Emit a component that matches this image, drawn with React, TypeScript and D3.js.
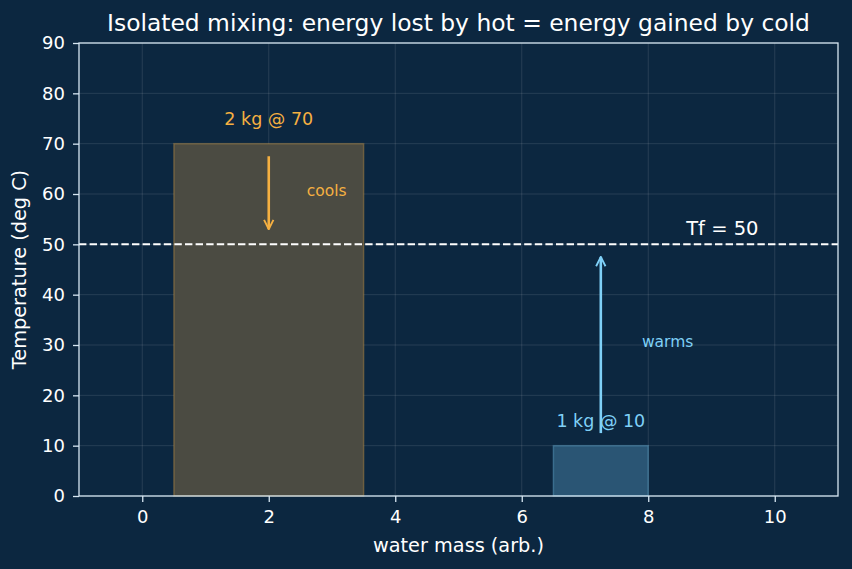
import React, { useEffect, useRef } from "react";
import * as d3 from "d3";

// two water samples: centre on the mass axis, mass, starting temperature
const samples = ["hot", "cold"];
const centers = [2, 7.25];
const masses = [2, 1];
const temps = [70, 10];
const finalTemp = 50;
const xTicks = [0, 2, 4, 6, 8, 10];
const yTicks = [0, 10, 20, 30, 40, 50, 60, 70, 80, 90];

const W = 852;
const H = 569;
const margin = { top: 43, right: 14, bottom: 73, left: 79 };

const BG = "#0c2740";
const AXIS = "#d6e6f2";
const HOT = "#f5b041";
const COLD = "#7fd0f7";
const FONT = "DejaVu Sans";

export default function App() {
  const ref = useRef<SVGSVGElement>(null);

  useEffect(() => {
    document.body.style.margin = "0";
    const svg = d3.select(ref.current);
    svg.selectAll("*").remove();

    const iw = W - margin.left - margin.right;
    const ih = H - margin.top - margin.bottom;

    const x = d3.scaleLinear().domain([-1, 11]).range([0, iw]);
    const y = d3.scaleLinear().domain([0, 90]).range([ih, 0]);

    svg.append("rect").attr("width", W).attr("height", H).attr("fill", BG);

    const defs = svg.append("defs");
    [["hot", HOT], ["cold", COLD]].forEach(([id, c]) => {
      defs.append("marker")
        .attr("id", "arr-" + id)
        .attr("viewBox", "0 0 10 10")
        .attr("refX", 9).attr("refY", 5)
        .attr("markerWidth", 4.5).attr("markerHeight", 4.5)
        .attr("markerUnits", "strokeWidth")
        .attr("orient", "auto")
        .append("path")
        .attr("d", "M1,1 L9,5 L1,9")
        .attr("fill", "none")
        .attr("stroke", c)
        .attr("stroke-width", 1.6);
    });

    const g = svg.append("g").attr("transform", `translate(${margin.left},${margin.top})`);

    // grid
    g.append("g").selectAll("line").data(xTicks).join("line")
      .attr("x1", d => x(d)).attr("x2", d => x(d))
      .attr("y1", 0).attr("y2", ih)
      .attr("stroke", "#ffffff").attr("stroke-opacity", 0.14).attr("stroke-width", 0.8);
    g.append("g").selectAll("line").data(yTicks).join("line")
      .attr("y1", d => y(d)).attr("y2", d => y(d))
      .attr("x1", 0).attr("x2", iw)
      .attr("stroke", "#ffffff").attr("stroke-opacity", 0.14).attr("stroke-width", 0.8);

    // bars: width proportional to mass
    const colors = [HOT, COLD];
    const fills = ["#4b4b42", "#2a5574"];
    samples.forEach((s, i) => {
      const half = masses[i] * 0.75;
      g.append("rect")
        .attr("x", x(centers[i] - half))
        .attr("y", y(temps[i]))
        .attr("width", x(centers[i] + half) - x(centers[i] - half))
        .attr("height", y(0) - y(temps[i]))
        .attr("fill", fills[i])
        .attr("stroke", colors[i])
        .attr("stroke-opacity", 0.3)
        .attr("stroke-width", 1.5);
    });

    // final temperature
    g.append("line")
      .attr("x1", 0).attr("x2", iw)
      .attr("y1", y(finalTemp)).attr("y2", y(finalTemp))
      .attr("stroke", "#ffffff").attr("stroke-width", 2)
      .attr("stroke-dasharray", "7.4,3.2");
    g.append("text")
      .attr("x", x(8.6)).attr("y", y(51.8))
      .attr("fill", "#ffffff").attr("font-size", 19.5)
      .text(`Tf = ${finalTemp}`);

    // arrows
    g.append("line")
      .attr("x1", x(centers[0])).attr("x2", x(centers[0]))
      .attr("y1", y(67.5)).attr("y2", y(53))
      .attr("stroke", HOT).attr("stroke-width", 2.6)
      .attr("marker-end", "url(#arr-hot)");
    g.append("line")
      .attr("x1", x(centers[1])).attr("x2", x(centers[1]))
      .attr("y1", y(12.5)).attr("y2", y(47.5))
      .attr("stroke", COLD).attr("stroke-width", 2.6)
      .attr("marker-end", "url(#arr-cold)");

    // annotations
    g.append("text")
      .attr("x", x(centers[0])).attr("y", y(73.8))
      .attr("text-anchor", "middle")
      .attr("fill", HOT).attr("font-size", 17.5)
      .text(`${masses[0]} kg @ ${temps[0]}`);
    g.append("text")
      .attr("x", x(centers[1])).attr("y", y(13.8))
      .attr("text-anchor", "middle")
      .attr("fill", COLD).attr("font-size", 17.5)
      .text(`${masses[1]} kg @ ${temps[1]}`);
    g.append("text")
      .attr("x", x(2.6)).attr("y", y(60)).attr("dy", "0.12em")
      .attr("fill", HOT).attr("font-size", 15.5)
      .text("cools");
    g.append("text")
      .attr("x", x(7.9)).attr("y", y(30)).attr("dy", "0.12em")
      .attr("fill", COLD).attr("font-size", 15.5)
      .text("warms");

    // frame
    g.append("rect")
      .attr("width", iw).attr("height", ih)
      .attr("fill", "none").attr("stroke", AXIS).attr("stroke-width", 1.3);

    const xa = g.append("g").attr("transform", `translate(0,${ih})`)
      .call(d3.axisBottom(x).tickValues(xTicks).tickSize(6).tickPadding(8).tickFormat(d3.format("d")));
    const ya = g.append("g")
      .call(d3.axisLeft(y).tickValues(yTicks).tickSize(6).tickPadding(8).tickFormat(d3.format("d")));
    [xa, ya].forEach(a => {
      a.select(".domain").remove();
      a.selectAll("line").attr("stroke", AXIS).attr("stroke-width", 1.3);
      a.selectAll("text").attr("fill", "#ffffff").attr("font-size", 18)
        .attr("font-family", FONT);
    });

    g.append("text")
      .attr("x", iw / 2).attr("y", ih + 56)
      .attr("text-anchor", "middle").attr("fill", "#ffffff").attr("font-size", 19.3)
      .text("water mass (arb.)");
    g.append("text")
      .attr("transform", `translate(-53,${ih / 2}) rotate(-90)`)
      .attr("text-anchor", "middle").attr("fill", "#ffffff").attr("font-size", 19.3)
      .text("Temperature (deg C)");

    svg.append("text")
      .attr("x", margin.left + iw / 2).attr("y", 31)
      .attr("text-anchor", "middle").attr("fill", "#ffffff").attr("font-size", 23.4)
      .text("Isolated mixing: energy lost by hot = energy gained by cold");
  }, []);

  return (
    <svg ref={ref} width={W} height={H}
      style={{ display: "block", fontFamily: FONT }} />
  );
}
